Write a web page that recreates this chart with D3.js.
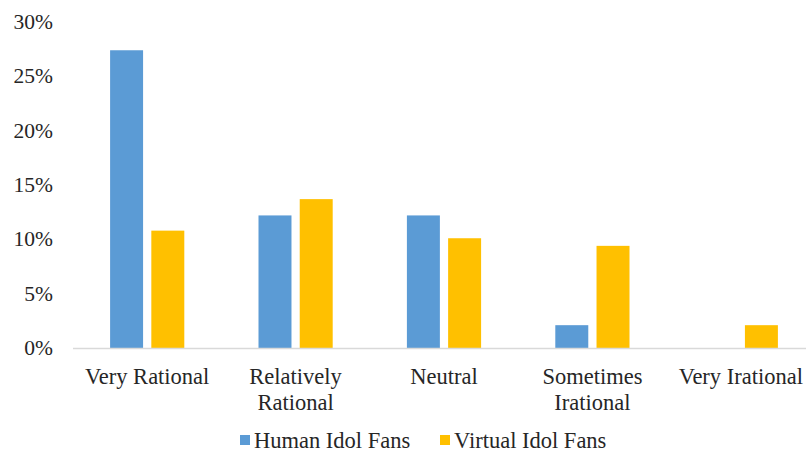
<!DOCTYPE html>
<html>
<head>
<meta charset="utf-8">
<script src="https://cdn.jsdelivr.net/npm/d3@7"></script>
<style>
  body { margin: 0; background: #fff; }
</style>
</head>
<body>
<div id="chart"></div>
<script>
const categories = [["Very Rational"], ["Relatively", "Rational"], ["Neutral"], ["Sometimes", "Irational"], ["Very Irational"]];
const seriesNames = ["Human Idol Fans", "Virtual Idol Fans"];
const humanValues = [27.4, 12.2, 12.2, 2.1, 0];
const virtualValues = [10.8, 13.7, 10.1, 9.4, 2.1];
const yTicks = [0, 5, 10, 15, 20, 25, 30];
const colors = ["#5B9BD5", "#FFC000"];
const textColor = "#262626";

function main() {
  const width = 806, height = 455;
  const svg = d3.select("#chart").append("svg")
    .attr("width", width).attr("height", height);

  const keys = categories.map((c) => c.join(" "));
  const rows = keys.map((k, i) => ({ key: k, lines: categories[i], values: [humanValues[i], virtualValues[i]] }));

  const x0 = d3.scaleBand().domain(keys).range([73, 815]).paddingInner(0.5).paddingOuter(0.25);
  const x1 = d3.scaleBand().domain(seriesNames).range([0, x0.bandwidth()]).paddingInner(0.2);
  const y = d3.scaleLinear().domain([0, 30]).range([348, 22]);

  // bars
  const groups = svg.append("g").selectAll("g")
    .data(rows).enter().append("g")
    .attr("transform", (d) => `translate(${x0(d.key)},0)`);

  groups.selectAll("rect")
    .data((d) => d.values.map((v, i) => ({ name: seriesNames[i], v: v, i: i })))
    .enter().append("rect")
    .attr("x", (d) => x1(d.name))
    .attr("width", x1.bandwidth())
    .attr("y", (d) => y(d.v))
    .attr("height", (d) => y(0) - y(d.v))
    .attr("fill", (d) => colors[d.i]);

  // baseline
  svg.append("line")
    .attr("x1", 73).attr("x2", width)
    .attr("y1", y(0) + 0.5).attr("y2", y(0) + 0.5)
    .attr("stroke", "#d9d9d9").attr("stroke-width", 1.5);

  // y tick labels
  yTicks.forEach((t) => {
    svg.append("text")
      .attr("x", 53)
      .attr("y", y(t) + 7)
      .attr("text-anchor", "end")
      .style("font-family", "Times New Roman")
      .style("font-size", "21.5px")
      .style("fill", textColor)
      .text(t + "%");
  });

  // category labels
  rows.forEach((r) => {
    const cx = x0(r.key) + x0.bandwidth() / 2;
    r.lines.forEach((line, j) => {
      svg.append("text")
        .attr("x", cx)
        .attr("y", 384 + j * 26)
        .attr("text-anchor", "middle")
        .style("font-family", "Times New Roman")
        .style("font-size", "22.5px")
        .style("fill", textColor)
        .text(line);
    });
  });

  // legend
  const legendX = [240, 440];
  seriesNames.forEach((name, i) => {
    svg.append("rect")
      .attr("x", legendX[i]).attr("y", 435)
      .attr("width", 10).attr("height", 10)
      .attr("fill", colors[i]);
    svg.append("text")
      .attr("x", legendX[i] + 14).attr("y", 448)
      .style("font-family", "Times New Roman")
      .style("font-size", "22.5px")
      .style("fill", textColor)
      .text(name);
  });
}
main();
</script>
</body>
</html>
